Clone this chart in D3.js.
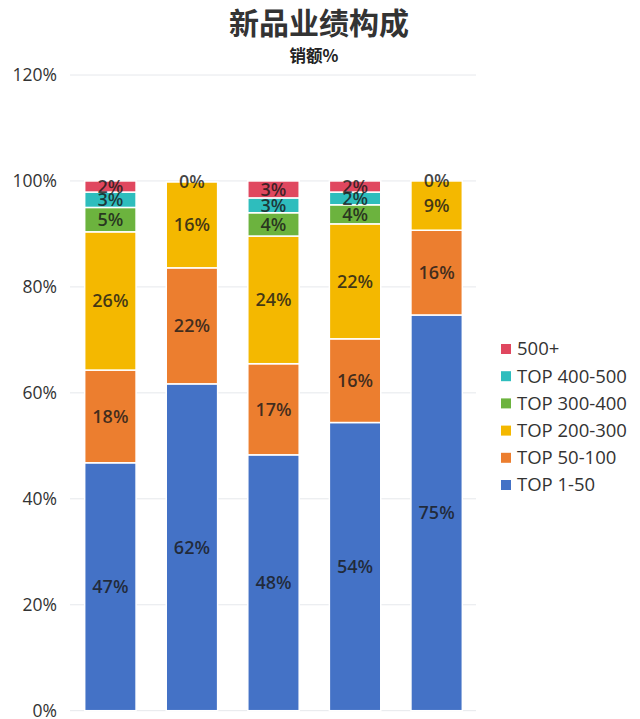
<!DOCTYPE html>
<html><head><meta charset="utf-8">
<script src="https://cdn.jsdelivr.net/npm/d3@7/dist/d3.min.js"></script>
<style>body{margin:0;background:#fff;}svg{display:block;font-family:"Open Sans","Noto Sans CJK SC",sans-serif;}</style>
</head><body><svg id="c" width="640" height="719"></svg>
<script>
const categories = ["A","B","C","D","E"];
const seriesNames = ["TOP 1-50","TOP 50-100","TOP 200-300","TOP 300-400","TOP 400-500","500+"];
const top1_50    = [46.8, 61.7, 48.3, 54.4, 74.7];
const top50_100  = [17.5, 21.9, 17.2, 15.8, 16.0];
const top200_300 = [26.1, 16.2, 24.1, 21.7,  9.3];
const top300_400 = [ 4.6,  0.0,  4.4,  3.6,  0.0];
const top400_500 = [ 2.9,  0.0,  2.8,  2.4,  0.0];
const top500p    = [ 2.1,  0.0,  3.2,  2.1,  0.0];
const colors = ["#4472c6","#ec7e2f","#f4b800","#6cb33e","#2ebdbd","#e0475f"];
const yTicks = [0,20,40,60,80,100,120];

const seriesVals = [top1_50, top50_100, top200_300, top300_400, top400_500, top500p];
const table = categories.map((c,i)=>{const o={cat:c}; seriesNames.forEach((s,k)=>o[s]=seriesVals[k][i]); return o;});
const stack = d3.stack().keys(seriesNames)(table);

const svg = d3.select("#c");
const x = d3.scaleBand().domain(categories).range([70,477]).paddingInner(0.37).paddingOuter(0.18);
const y = d3.scaleLinear().domain([0,120]).range([710.7,75]);

// gridlines
svg.append("g").selectAll("line").data(yTicks).join("line")
  .attr("x1",70).attr("x2",476).attr("y1",d=>y(d)).attr("y2",d=>y(d))
  .attr("stroke","#e6e8ec").attr("stroke-width",1);

// y axis labels
const yAxis = d3.axisLeft(y).tickValues(yTicks).tickFormat(d=>d+"%").tickSize(0).tickPadding(0);
const ya = svg.append("g").attr("transform","translate(57,0)").call(yAxis);
ya.select(".domain").remove();
ya.selectAll("text").attr("font-size",17.5).attr("fill","#333").attr("font-family","Open Sans").attr("dy","0.33em");

// bars
const g = svg.append("g");
stack.forEach((layer,k)=>{
  g.append("g").selectAll("rect").data(layer).join("rect")
    .attr("x",d=>x(d.data.cat)).attr("width",x.bandwidth())
    .attr("y",d=>y(d[1])).attr("height",d=>Math.max(0,y(d[0])-y(d[1])))
    .attr("fill",colors[k]).attr("stroke","#fff").attr("stroke-width",1.5);
});
// labels
stack.forEach((layer,k)=>{
  const last = k===stack.length-1;
  g.append("g").selectAll("text").data(layer.filter(d=>(d[1]-d[0])>0.05 || last)).join("text")
    .attr("x",d=>x(d.data.cat)+x.bandwidth()/2)
    .attr("y",d=>y((d[0]+d[1])/2))
    .attr("dy","0.36em").attr("text-anchor","middle")
    .attr("font-size",18).attr("font-weight",600)
    .attr("fill","#1a1a1a").attr("fill-opacity",0.82)
    .text(d=>Math.round(d[1]-d[0])+"%");
});

// title
svg.append("text").attr("x",319).attr("y",34).attr("text-anchor","middle")
  .attr("font-size",30).attr("font-weight",700).attr("fill","#333")
  .attr("font-family","Noto Sans CJK SC").text("新品业绩构成");
svg.append("text").attr("x",314).attr("y",62).attr("text-anchor","middle")
  .attr("font-size",16.5).attr("font-weight",700).attr("fill","#222")
  .attr("font-family","Noto Sans CJK SC").text("销额%");

// legend
const legendOrder = seriesNames.map((s,i)=>({s,c:colors[i]})).reverse();
const lg = svg.append("g").selectAll("g").data(legendOrder).join("g")
  .attr("transform",(d,i)=>`translate(501,${349+i*27.2})`);
lg.append("rect").attr("x",0).attr("y",-5).attr("width",10).attr("height",10).attr("fill",d=>d.c);
lg.append("text").attr("x",16).attr("y",0).attr("dy","0.35em").attr("font-size",18.5)
  .attr("fill","#333").text(d=>d.s);
</script></body></html>
